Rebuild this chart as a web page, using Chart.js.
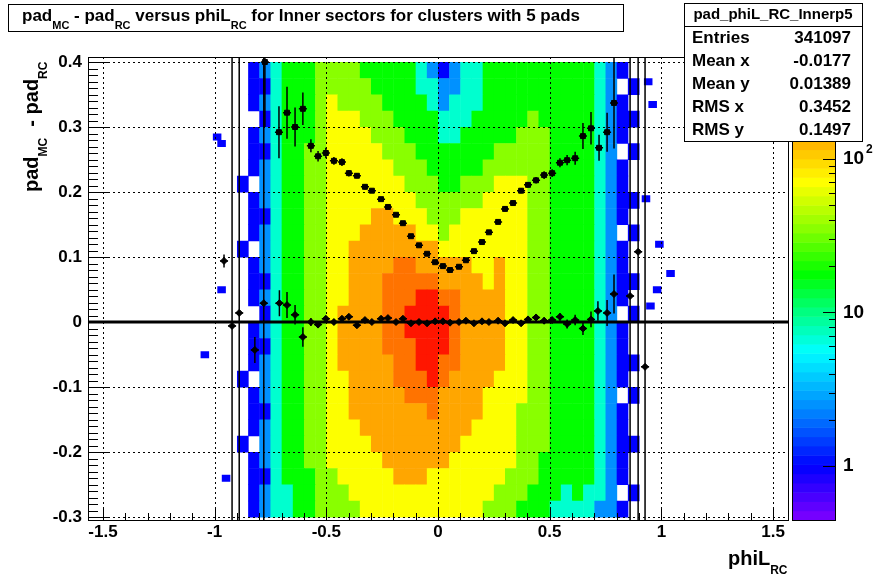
<!DOCTYPE html>
<html>
<head>
<meta charset="utf-8">
<script src="https://cdn.jsdelivr.net/npm/chart.js@4.4.1/dist/chart.umd.min.js"></script>
<style>
  body { margin: 0; background: #fff; }
  #wrap { width: 878px; height: 578px; }
</style>
</head>
<body>
<div id="wrap"><canvas id="myChart" width="878" height="578"></canvas></div>
<script>
// histogram grid: columns of 0.05 from -0.9, rows of 0.025 from 0.4 down
var xEdgeStart = -0.9, xBin = 0.05;
var yEdgeTop = 0.4, yBin = 0.025;
// level code per cell (0 empty ... 9 red)
var rows = [
    '012344455554444432123344444444443210',
    '011344455555444433223344444444443201',
    '012344456555544443233344444444443210',
    '001344456665554444333444445444443211',
    '012344456666555444334444455544443210',
    '011344556666655544444445555544443201',
    '012344556666665554444455555544443210',
    '102344556666666555445556665544443210',
    '012344556666666655555566665544443211',
    '011344556666776665556666665544443210',
    '012344556667777766566666665544443201',
    '102344556677777777666666665544443210',
    '012344556677778877777667665544443210',
    '011344556677788888777767665544443211',
    '012344556677788899887777665544443210',
    '001344556777788999987777665544443201',
    '012344556777788999987777665544443210',
    '011344556777788899987777665544443210',
    '012344556777778899887777665544443211',
    '102344556677778889877776665544443210',
    '012344556677777888777766665544443201',
    '011344556677777778777766655544443210',
    '012344556667777777777666655544443210',
    '102344556666777777776666655544443211',
    '012344556666677777766666655444443210',
    '011344455666667776666666555444443210',
    '012334455566666666666665554443433201',
    '012334455556666666666655544433332210'
];
var levelCounts = [0, 1, 2.5, 7, 18, 35, 70, 140, 220, 400];
// isolated cells outside the main band [x, y, count]
var strayCells = [
    [-0.97, 0.275, 1], [-0.99, 0.285, 1], [-1.045, -0.05, 1], [-0.95, -0.24, 1],
    [-0.97, 0.05, 1], [0.96, 0.335, 1], [0.99, 0.12, 1], [1.04, 0.075, 1],
    [0.98, 0.05, 1], [0.95, 0.025, 1], [0.93, 0.19, 1], [0.94, 0.37, 1]
];

// profile points
var profX = [-0.775, -0.712, -0.676, -0.64, -0.605, -0.569, -0.537, -0.502, -0.466, -0.43, -0.399, -0.363,
    -0.327, -0.296, -0.255, -0.224, -0.188, -0.157, -0.121, -0.085, -0.049, -0.013, 0.022, 0.054, 0.094,
    0.125, 0.161, 0.197, 0.228, 0.269, 0.3, 0.336, 0.372, 0.403, 0.439, 0.475, 0.511, 0.546, 0.578, 0.614,
    0.649, 0.685, 0.721, 0.757, 0.788];
var profY = [0.40, 0.292, 0.322, 0.30, 0.328, 0.271, 0.255, 0.26, 0.248, 0.246, 0.229, 0.225,
    0.208, 0.202, 0.189, 0.177, 0.165, 0.152, 0.132, 0.118, 0.105, 0.092, 0.086, 0.08, 0.085,
    0.095, 0.109, 0.123, 0.138, 0.154, 0.174, 0.183, 0.202, 0.211, 0.218, 0.226, 0.229, 0.245, 0.249, 0.252,
    0.286, 0.298, 0.268, 0.292, 0.337];
var profErr = [0.1, 0.04, 0.04, 0.03, 0.025, 0.01, 0.008, 0.008, 0.006, 0.006, 0.005, 0.004,
    0.004, 0.003, 0.003, 0.003, 0.003, 0.003, 0.003, 0.003, 0.003, 0.003, 0.003, 0.003, 0.003,
    0.003, 0.003, 0.003, 0.003, 0.003, 0.004, 0.004, 0.004, 0.004, 0.005, 0.006, 0.006, 0.007, 0.008, 0.01,
    0.02, 0.025, 0.02, 0.03, 0.07];
var lowX = [-0.958, -0.922, -0.89, -0.82, -0.78, -0.71, -0.676, -0.64, -0.605, -0.569, -0.537, -0.502, -0.466,
    -0.43, -0.399, -0.363, -0.327, -0.296, -0.255, -0.224, -0.188, -0.157, -0.121, -0.085, -0.049, -0.013,
    0.022, 0.054, 0.094, 0.125, 0.161, 0.197, 0.228, 0.269, 0.3, 0.336, 0.372, 0.403, 0.439, 0.475, 0.511,
    0.546, 0.578, 0.614, 0.649, 0.685, 0.716, 0.757, 0.788, 0.86, 0.896, 0.927];
var lowY = [0.094, -0.006, 0.014, -0.043, 0.029, 0.029, 0.026, 0.011, -0.023, 0.0, -0.004, 0.005, 0.0,
    0.005, 0.008, -0.005, 0.003, 0.0, 0.005, 0.006, 0.0, 0.005, -0.002, 0.0, -0.002, 0.001,
    0.001, -0.001, 0.0, 0.002, -0.002, 0.001, 0.0, 0.002, -0.002, 0.003, -0.002, 0.004, 0.007, 0.002, 0.003,
    0.008, -0.003, 0.003, -0.01, 0.004, 0.017, 0.014, 0.043, 0.04, 0.108, -0.069];
var lowErr = [0.01, 0.5, 0.5, 0.02, 0.5, 0.02, 0.02, 0.015, 0.015, 0.006, 0.005, 0.004, 0.004,
    0.004, 0.004, 0.003, 0.003, 0.003, 0.003, 0.003, 0.003, 0.003, 0.003, 0.003, 0.003, 0.003,
    0.003, 0.003, 0.003, 0.003, 0.003, 0.003, 0.003, 0.003, 0.003, 0.003, 0.004, 0.004, 0.004, 0.005, 0.005,
    0.006, 0.007, 0.008, 0.01, 0.012, 0.015, 0.02, 0.03, 0.5, 0.5, 0.5];

var xTicks = [-1.5, -1, -0.5, 0, 0.5, 1, 1.5];
var yTicks = [-0.3, -0.2, -0.1, 0, 0.1, 0.2, 0.3, 0.4];
var statLabels = ['Entries', 'Mean x', 'Mean y', 'RMS x', 'RMS y'];
var statValues = ['341097', '-0.0177', '0.01389', '0.3452', '0.1497'];
var zMinLog = -0.35, zMaxLog = 2.66;

var FONT = '"Liberation Sans", Arial, sans-serif';
var paletteStops = [
    [-0.35, [128, 0, 255]], [0.0, [0, 0, 255]], [0.35, [0, 130, 255]], [0.75, [0, 255, 255]],
    [1.0, [0, 255, 130]], [1.25, [0, 255, 0]], [1.55, [140, 255, 0]], [1.85, [255, 255, 0]],
    [2.15, [255, 165, 0]], [2.4, [255, 100, 0]], [2.66, [255, 0, 0]]
];
function colorFor(logv) {
    if (logv <= paletteStops[0][0]) return 'rgb(' + paletteStops[0][1].join(',') + ')';
    for (var i = 1; i < paletteStops.length; i++) {
        if (logv <= paletteStops[i][0]) {
            var a = paletteStops[i - 1], b = paletteStops[i];
            var t = (logv - a[0]) / (b[0] - a[0]);
            var c = a[1].map(function (v, k) { return Math.round(v + (b[1][k] - v) * t); });
            return 'rgb(' + c.join(',') + ')';
        }
    }
    return 'rgb(255,0,0)';
}

function fillCell(ctx, xs, ys, x0, x1, y0, y1, count) {
    var px0 = xs.getPixelForValue(x0), px1 = xs.getPixelForValue(x1);
    var py0 = ys.getPixelForValue(y1), py1 = ys.getPixelForValue(y0);
    ctx.fillStyle = colorFor(Math.log10(count));
    ctx.fillRect(px0, py0, px1 - px0 + 0.5, py1 - py0 + 0.5);
}

function subText(ctx, parts, x, y, size, subSize) {
    parts.forEach(function (p) {
        ctx.font = 'bold ' + (p[1] ? subSize : size) + 'px ' + FONT;
        ctx.fillText(p[0], x, y + (p[1] ? size * 0.45 : 0));
        x += ctx.measureText(p[0]).width;
    });
    return x;
}

var heatPlugin = {
    id: 'heat',
    beforeDatasetsDraw: function (chart) {
        var ctx = chart.ctx, xs = chart.scales.x, ys = chart.scales.y, a = chart.chartArea;
        ctx.save();
        ctx.beginPath();
        ctx.rect(a.left, a.top, a.right - a.left, a.bottom - a.top);
        ctx.clip();
        rows.forEach(function (row, r) {
            var yTop = yEdgeTop - r * yBin;
            for (var c = 0; c < row.length; c++) {
                var lv = +row[c];
                if (!lv) continue;
                var x0 = xEdgeStart + c * xBin;
                fillCell(ctx, xs, ys, x0, x0 + xBin, yTop - yBin, yTop, levelCounts[lv]);
            }
        });
        strayCells.forEach(function (s) {
            fillCell(ctx, xs, ys, s[0] - 0.018, s[0] + 0.018, s[1] - 0.005, s[1] + 0.005, s[2]);
        });
        // grid
        ctx.strokeStyle = '#000';
        ctx.lineWidth = 1;
        ctx.setLineDash([2, 3]);
        xTicks.forEach(function (v) {
            var p = Math.round(xs.getPixelForValue(v)) + 0.5;
            ctx.beginPath(); ctx.moveTo(p, a.top); ctx.lineTo(p, a.bottom); ctx.stroke();
        });
        yTicks.forEach(function (v) {
            var p = Math.round(ys.getPixelForValue(v)) + 0.5;
            ctx.beginPath(); ctx.moveTo(a.left, p); ctx.lineTo(a.right, p); ctx.stroke();
        });
        ctx.setLineDash([]);
        // error bars
        ctx.lineWidth = 1.5;
        [[profX, profY, profErr], [lowX, lowY, lowErr]].forEach(function (s) {
            s[0].forEach(function (x, i) {
                var px = xs.getPixelForValue(x);
                ctx.beginPath();
                ctx.moveTo(px, ys.getPixelForValue(s[1][i] + s[2][i]));
                ctx.lineTo(px, ys.getPixelForValue(s[1][i] - s[2][i]));
                ctx.moveTo(xs.getPixelForValue(x - 0.018), ys.getPixelForValue(s[1][i]));
                ctx.lineTo(xs.getPixelForValue(x + 0.018), ys.getPixelForValue(s[1][i]));
                ctx.stroke();
            });
        });
        // zero line
        ctx.lineWidth = 3;
        var z = ys.getPixelForValue(0);
        ctx.beginPath(); ctx.moveTo(a.left, z); ctx.lineTo(a.right, z); ctx.stroke();
        ctx.restore();
    },
    afterDraw: function (chart) {
        var ctx = chart.ctx, xs = chart.scales.x, ys = chart.scales.y, a = chart.chartArea;
        ctx.save();
        ctx.strokeStyle = '#000';
        ctx.fillStyle = '#000';
        ctx.lineWidth = 1;
        ctx.strokeRect(a.left + 0.5, a.top + 0.5, a.right - a.left, a.bottom - a.top);
        // ticks
        for (var v = -1.5; v <= 1.55; v += 0.1) {
            var major = Math.abs(v * 2 - Math.round(v * 2)) < 0.01;
            var p = Math.round(xs.getPixelForValue(v)) + 0.5;
            ctx.beginPath(); ctx.moveTo(p, a.bottom); ctx.lineTo(p, a.bottom - (major ? 13 : 7)); ctx.stroke();
        }
        for (var w = -0.3; w <= 0.405; w += 0.01) {
            var mj = Math.abs(w * 10 - Math.round(w * 10)) < 0.01;
            var q = Math.round(ys.getPixelForValue(w)) + 0.5;
            ctx.beginPath(); ctx.moveTo(a.left, q); ctx.lineTo(a.left + (mj ? 20 : 10), q); ctx.stroke();
        }
        ctx.font = 'bold 17px ' + FONT;
        ctx.textAlign = 'center'; ctx.textBaseline = 'top';
        xTicks.forEach(function (v) { ctx.fillText(String(v), xs.getPixelForValue(v), 524); });
        ctx.textAlign = 'right'; ctx.textBaseline = 'middle';
        yTicks.forEach(function (v) { ctx.fillText(String(v), 82, ys.getPixelForValue(v)); });
        // axis titles
        ctx.textAlign = 'left'; ctx.textBaseline = 'alphabetic';
        subText(ctx, [['phiL', false], ['RC', true]], 728, 565, 20, 12);
        ctx.save();
        ctx.translate(38, 192);
        ctx.rotate(-Math.PI / 2);
        subText(ctx, [['pad', false], ['MC', true], ['  - pad', false], ['RC', true]], 0, 0, 20, 12);
        ctx.restore();
        // colour bar
        var cbL = 792, cbR = 835, cbT = a.top, cbB = a.bottom, n = 50;
        for (var i = 0; i < n; i++) {
            var lg = zMinLog + (i + 0.5) * (zMaxLog - zMinLog) / n;
            ctx.fillStyle = colorFor(lg);
            var y1 = cbB - (i + 1) * (cbB - cbT) / n, y0 = cbB - i * (cbB - cbT) / n;
            ctx.fillRect(cbL, y1, cbR - cbL, y0 - y1 + 0.5);
        }
        ctx.fillStyle = '#000';
        ctx.strokeRect(cbL + 0.5, cbT + 0.5, cbR - cbL, cbB - cbT);
        function zPix(lg) { return cbB - (lg - zMinLog) / (zMaxLog - zMinLog) * (cbB - cbT); }
        for (var d = 0; d <= 2; d++) {
            for (var m = 1; m <= 9; m++) {
                var lgv = d + Math.log10(m);
                if (lgv > zMaxLog) break;
                var yy = Math.round(zPix(lgv)) + 0.5;
                ctx.beginPath(); ctx.moveTo(cbR, yy); ctx.lineTo(cbR - (m === 1 ? 12 : 6), yy); ctx.stroke();
            }
        }
        ctx.font = 'bold 19px ' + FONT;
        ctx.textAlign = 'left'; ctx.textBaseline = 'middle';
        ctx.fillText('1', 843, zPix(0));
        ctx.fillText('10', 843, zPix(1));
        ctx.fillText('10', 843, zPix(2));
        ctx.font = 'bold 12px ' + FONT;
        ctx.fillText('2', 866, zPix(2) - 9);
        // title box
        ctx.fillStyle = '#fff';
        ctx.fillRect(8, 4, 615, 27);
        ctx.strokeRect(8.5, 4.5, 615, 27);
        ctx.fillStyle = '#000';
        ctx.textBaseline = 'alphabetic';
        subText(ctx, [['pad', false], ['MC', true], [' - pad', false], ['RC', true], [' versus phiL', false],
            ['RC', true], [' for Inner sectors for clusters with 5 pads', false]], 22, 21, 17, 11);
        // stats box
        ctx.fillStyle = '#fff';
        ctx.fillRect(684, 3, 178, 138);
        ctx.strokeRect(684.5, 3.5, 178, 138);
        ctx.beginPath(); ctx.moveTo(684, 26.5); ctx.lineTo(862, 26.5); ctx.stroke();
        ctx.fillStyle = '#000';
        ctx.font = 'bold 15px ' + FONT;
        ctx.textAlign = 'center'; ctx.textBaseline = 'middle';
        ctx.fillText('pad_phiL_RC_Innerp5', 773, 15);
        ctx.font = 'bold 17px ' + FONT;
        statLabels.forEach(function (l, k) {
            var yy = 38 + k * 23;
            ctx.textAlign = 'left'; ctx.fillText(l, 692, yy);
            ctx.textAlign = 'right'; ctx.fillText(statValues[k], 851, yy);
        });
        ctx.restore();
    }
};

function pts(xs, ys) { return xs.map(function (x, i) { return { x: x, y: ys[i] }; }); }

new Chart(document.getElementById('myChart'), {
    type: 'scatter',
    data: {
        datasets: [
            { data: pts(profX, profY), backgroundColor: '#000', borderColor: '#000', pointStyle: 'rect', pointRadius: 3.5 },
            { data: pts(lowX, lowY), backgroundColor: '#000', borderColor: '#000', pointStyle: 'rectRot', pointRadius: 3.5 }
        ]
    },
    options: {
        responsive: false,
        animation: false,
        layout: { padding: { top: 57, right: 90, left: 0, bottom: 0 } },
        plugins: { legend: { display: false }, tooltip: { enabled: false } },
        scales: {
            x: {
                type: 'linear', min: -1.567, max: 1.567,
                grid: { display: false }, border: { display: false },
                ticks: { display: false },
                afterFit: function (s) { s.height = 58; }
            },
            y: {
                type: 'linear', min: -0.3046, max: 0.4077,
                grid: { display: false }, border: { display: false },
                ticks: { display: false },
                afterFit: function (s) { s.width = 88; }
            }
        }
    },
    plugins: [heatPlugin]
});
</script>
</body>
</html>
